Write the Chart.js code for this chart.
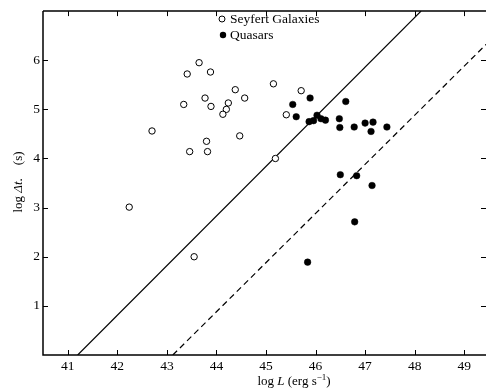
<!DOCTYPE html>
<html>
<head>
<meta charset="utf-8">
<script src="https://cdn.jsdelivr.net/npm/chart.js@4.4.0/dist/chart.umd.min.js"></script>
<style>
  html, body { margin: 0; padding: 0; background: #fff; overflow: hidden; }
</style>
</head>
<body>
<canvas id="chart" width="491" height="390"></canvas>
<script>
// values: log L (erg/s) and log dt (s)
const seyfertL = [43.65, 43.41, 43.88, 44.38, 44.57, 43.77, 43.34, 43.89, 44.24, 44.20, 44.13,
                  42.70, 44.47, 43.80, 43.46, 43.82, 45.15, 45.71, 45.41, 45.19, 42.24, 43.55];
const seyfertT = [5.95, 5.72, 5.76, 5.40, 5.23, 5.23, 5.10, 5.06, 5.13, 5.00, 4.90,
                  4.56, 4.46, 4.35, 4.14, 4.14, 5.52, 5.38, 4.89, 4.00, 3.01, 2.00];

const quasarL = [45.54, 45.89, 45.61, 45.87, 45.96, 46.03, 46.11, 46.20, 46.61, 46.48, 46.49,
                 46.78, 47.00, 47.16, 47.12, 47.44, 46.50, 46.83, 47.14, 46.79, 45.84];
const quasarT = [5.10, 5.23, 4.85, 4.75, 4.77, 4.88, 4.81, 4.78, 5.16, 4.81, 4.63,
                 4.64, 4.72, 4.74, 4.55, 4.64, 3.67, 3.65, 3.45, 2.71, 1.89];

// the two limit lines, given by their end points
const solidLineL = [41.2, 48.13];
const solidLineT = [0, 7];
const dashedLineL = [43.12, 49.6];
const dashedLineT = [0, 6.48];

const xTicks = [41, 42, 43, 44, 45, 46, 47, 48, 49];
const yTicks = [1, 2, 3, 4, 5, 6];

const serif = "'Liberation Serif', 'DejaVu Serif', serif";

const toPoints = (xs, ys) => xs.map((v, i) => ({ x: v, y: ys[i] }));

// frame, inward ticks, axis titles and the legend
const decorations = {
    id: 'decorations',
    afterDraw(chart) {
        const { ctx, chartArea: a, scales: { x, y } } = chart;
        ctx.save();
        ctx.strokeStyle = '#000';
        ctx.fillStyle = '#000';

        // left, bottom and top border (right side is cut off in the figure)
        ctx.lineWidth = 1.5;
        ctx.beginPath();
        ctx.moveTo(a.left, a.top);
        ctx.lineTo(a.right, a.top);
        ctx.moveTo(a.left, a.top);
        ctx.lineTo(a.left, a.bottom);
        ctx.lineTo(a.right, a.bottom);
        ctx.stroke();

        // tick marks pointing into the plot
        ctx.lineWidth = 1;
        ctx.beginPath();
        xTicks.forEach(v => {
            const px = Math.round(x.getPixelForValue(v)) + 0.5;
            ctx.moveTo(px, a.bottom); ctx.lineTo(px, a.bottom - 5);
            ctx.moveTo(px, a.top); ctx.lineTo(px, a.top + 5);
        });
        yTicks.forEach(v => {
            const py = Math.round(y.getPixelForValue(v)) + 0.5;
            ctx.moveTo(a.left, py); ctx.lineTo(a.left + 5, py);
            ctx.moveTo(a.right, py); ctx.lineTo(a.right - 5, py);
        });
        ctx.stroke();

        // x axis title: log L (erg s^-1)
        const f = 13;
        const parts = [
            { t: 'log ', font: `${f}px ${serif}`, dy: 0 },
            { t: 'L', font: `italic ${f}px ${serif}`, dy: 0 },
            { t: ' (erg s', font: `${f}px ${serif}`, dy: 0 },
            { t: '\u2212' + '1', font: `${f - 4}px ${serif}`, dy: -5 },
            { t: ')', font: `${f}px ${serif}`, dy: 0 }
        ];
        let total = 0;
        parts.forEach(p => { ctx.font = p.font; p.w = ctx.measureText(p.t).width; total += p.w; });
        let cx = 294 - total / 2;
        ctx.textBaseline = 'alphabetic';
        ctx.textAlign = 'left';
        parts.forEach(p => {
            ctx.font = p.font;
            ctx.fillText(p.t, cx, 385 + p.dy);
            cx += p.w;
        });

        // y axis title: log dt (s), rotated
        const yParts = [
            { t: 'log ', font: `${f}px ${serif}` },
            { t: '\u0394t', font: `italic ${f}px ${serif}` },
            { t: '.    (s)', font: `${f}px ${serif}` }
        ];
        total = 0;
        yParts.forEach(p => { ctx.font = p.font; p.w = ctx.measureText(p.t).width; total += p.w; });
        ctx.translate(19, 182);
        ctx.rotate(-Math.PI / 2);
        ctx.textBaseline = 'middle';
        cx = -total / 2;
        yParts.forEach(p => {
            ctx.font = p.font;
            ctx.fillText(p.t, cx, 0);
            cx += p.w;
        });
        ctx.setTransform(1, 0, 0, 1, 0, 0);

        // legend inside the plot
        ctx.font = `13.5px ${serif}`;
        ctx.textBaseline = 'middle';
        ctx.beginPath();
        ctx.arc(222, 19, 3, 0, Math.PI * 2);
        ctx.lineWidth = 1;
        ctx.stroke();
        ctx.fillText('Seyfert Galaxies', 230, 19);
        ctx.beginPath();
        ctx.arc(223, 35, 3.2, 0, Math.PI * 2);
        ctx.fill();
        ctx.fillText('Quasars', 230, 35);

        ctx.restore();
    }
};

const tickFont = { family: serif, size: 13.5 };

const config = {
    type: 'scatter',
    data: {
        datasets: [
            {
                label: 'Seyfert Galaxies',
                data: toPoints(seyfertL, seyfertT),
                pointRadius: 3.2,
                borderWidth: 1,
                borderColor: '#000',
                backgroundColor: '#fff'
            },
            {
                label: 'Quasars',
                data: toPoints(quasarL, quasarT),
                pointRadius: 3.3,
                borderWidth: 0.5,
                borderColor: '#000',
                backgroundColor: '#000'
            },
            {
                type: 'line',
                label: 'solid',
                data: toPoints(solidLineL, solidLineT),
                borderColor: '#000',
                borderWidth: 1.2,
                pointRadius: 0,
                fill: false
            },
            {
                type: 'line',
                label: 'dashed',
                data: toPoints(dashedLineL, dashedLineT),
                borderColor: '#000',
                borderWidth: 1.2,
                borderDash: [6, 4],
                pointRadius: 0,
                fill: false
            }
        ]
    },
    options: {
        responsive: false,
        animation: false,
        devicePixelRatio: 1,
        layout: { padding: { top: 7, right: 0, left: 0, bottom: 0 } },
        plugins: {
            legend: { display: false },
            tooltip: { enabled: false }
        },
        scales: {
            x: {
                type: 'linear',
                min: 40.5,
                max: 49.44,
                afterBuildTicks: s => { s.ticks = xTicks.map(v => ({ value: v })); },
                afterFit: s => { s.height = 35; },
                grid: { display: false, drawTicks: false },
                border: { display: false },
                ticks: { font: tickFont, color: '#000', padding: 3, maxRotation: 0 }
            },
            y: {
                type: 'linear',
                min: 0,
                max: 7,
                afterBuildTicks: s => { s.ticks = yTicks.map(v => ({ value: v })); },
                afterFit: s => { s.width = 43; },
                grid: { display: false, drawTicks: false },
                border: { display: false },
                ticks: { font: tickFont, color: '#000', padding: 3 }
            }
        }
    },
    plugins: [decorations]
};

new Chart(document.getElementById('chart').getContext('2d'), config);
</script>
</body>
</html>
